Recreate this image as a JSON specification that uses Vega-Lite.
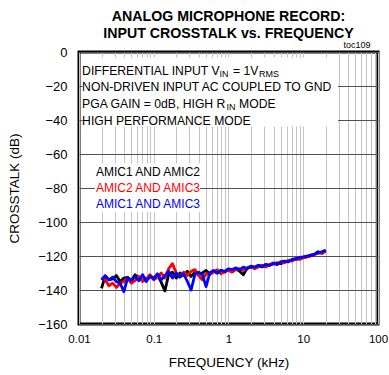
{
  "$schema": "https://vega.github.io/schema/vega-lite/v6.json",
  "width": 299,
  "height": 272,
  "autosize": {"type": "none"},
  "padding": {"left": 79, "top": 52, "right": 11, "bottom": 51},
  "background": "white",
  "config": {
    "view": {"stroke": "black", "strokeWidth": 3},
    "font": "Liberation Sans"
  },
  "title": {
    "text": ["ANALOG MICROPHONE RECORD:", "INPUT CROSSTALK vs. FREQUENCY"],
    "font": "Liberation Sans",
    "fontWeight": "bold",
    "fontSize": 14.2,
    "lineHeight": 17,
    "anchor": "middle",
    "offset": -1,
    "color": "black"
  },
  "datasets": {
    "curves": [
      {"f": 0.02, "m12": -139, "m23": -133, "m13": -134},
      {"f": 0.0224, "m12": -132, "m23": -134, "m13": -131.5},
      {"f": 0.0251, "m12": -134, "m23": -137.5, "m13": -134},
      {"f": 0.0282, "m12": -133.5, "m23": -136, "m13": -132.5},
      {"f": 0.0316, "m12": -131.5, "m23": -138.5, "m13": -135},
      {"f": 0.0355, "m12": -135, "m23": -136, "m13": -136},
      {"f": 0.0398, "m12": -133, "m23": -135, "m13": -141},
      {"f": 0.0447, "m12": -132.5, "m23": -133, "m13": -133},
      {"f": 0.0501, "m12": -134.5, "m23": -136, "m13": -134.5},
      {"f": 0.0562, "m12": -131, "m23": -134.5, "m13": -132},
      {"f": 0.0631, "m12": -133, "m23": -132, "m13": -134.5},
      {"f": 0.0708, "m12": -132, "m23": -135, "m13": -131},
      {"f": 0.0794, "m12": -134, "m23": -133.5, "m13": -135},
      {"f": 0.0891, "m12": -131.5, "m23": -131, "m13": -132},
      {"f": 0.1, "m12": -133, "m23": -134, "m13": -133.5},
      {"f": 0.112, "m12": -131, "m23": -132.5, "m13": -130.5},
      {"f": 0.126, "m12": -135.5, "m23": -130, "m13": -134},
      {"f": 0.141, "m12": -140.5, "m23": -133, "m13": -131.5},
      {"f": 0.158, "m12": -131, "m23": -127.5, "m13": -129},
      {"f": 0.178, "m12": -129.5, "m23": -124.5, "m13": -133},
      {"f": 0.2, "m12": -133, "m23": -130, "m13": -130},
      {"f": 0.224, "m12": -130, "m23": -132, "m13": -132.5},
      {"f": 0.251, "m12": -131.5, "m23": -129.5, "m13": -130.5},
      {"f": 0.282, "m12": -129, "m23": -131.5, "m13": -135},
      {"f": 0.316, "m12": -132, "m23": -129, "m13": -140},
      {"f": 0.355, "m12": -129.5, "m23": -128, "m13": -131},
      {"f": 0.398, "m12": -131, "m23": -131.5, "m13": -129.5},
      {"f": 0.447, "m12": -130, "m23": -134, "m13": -131},
      {"f": 0.501, "m12": -128.5, "m23": -130.5, "m13": -138},
      {"f": 0.562, "m12": -130.5, "m23": -131, "m13": -130},
      {"f": 0.631, "m12": -129, "m23": -129.5, "m13": -128.5},
      {"f": 0.708, "m12": -130, "m23": -128, "m13": -130},
      {"f": 0.794, "m12": -128.5, "m23": -130.5, "m13": -128.5},
      {"f": 0.891, "m12": -129.5, "m23": -129, "m13": -129},
      {"f": 1, "m12": -128, "m23": -128.5, "m13": -127.5},
      {"f": 1.12, "m12": -128.5, "m23": -129.5, "m13": -128},
      {"f": 1.26, "m12": -127.5, "m23": -128, "m13": -127},
      {"f": 1.41, "m12": -129, "m23": -127.5, "m13": -128},
      {"f": 1.58, "m12": -131, "m23": -128.5, "m13": -126.5},
      {"f": 1.78, "m12": -127, "m23": -127, "m13": -127.5},
      {"f": 2, "m12": -126.5, "m23": -126, "m13": -126},
      {"f": 2.24, "m12": -127, "m23": -127.5, "m13": -126.5},
      {"f": 2.51, "m12": -125.5, "m23": -126.5, "m13": -125.5},
      {"f": 2.82, "m12": -126, "m23": -125.5, "m13": -126.5},
      {"f": 3.16, "m12": -125, "m23": -126.5, "m13": -125},
      {"f": 3.55, "m12": -125.5, "m23": -125, "m13": -125.5},
      {"f": 3.98, "m12": -124.5, "m23": -124, "m13": -124.5},
      {"f": 4.47, "m12": -124, "m23": -125, "m13": -125},
      {"f": 5.01, "m12": -124.5, "m23": -123.5, "m13": -123.5},
      {"f": 5.62, "m12": -123.5, "m23": -124, "m13": -123},
      {"f": 6.31, "m12": -123, "m23": -122.5, "m13": -123.5},
      {"f": 7.08, "m12": -122.5, "m23": -123, "m13": -122},
      {"f": 7.94, "m12": -122, "m23": -121.5, "m13": -121.5},
      {"f": 8.91, "m12": -121.5, "m23": -122, "m13": -121},
      {"f": 10, "m12": -121, "m23": -121, "m13": -120.5},
      {"f": 11.2, "m12": -120.5, "m23": -120.5, "m13": -120},
      {"f": 12.6, "m12": -120, "m23": -119.5, "m13": -119.5},
      {"f": 14.1, "m12": -119, "m23": -119, "m13": -119},
      {"f": 15.8, "m12": -117.5, "m23": -118.5, "m13": -118},
      {"f": 17.8, "m12": -118.5, "m23": -118, "m13": -117.5},
      {"f": 20, "m12": -117, "m23": -117.5, "m13": -116.5}
    ],
    "boxes": [
      {"f": 0.0112, "f2": 29.2, "db": -3.3, "db2": -43.8},
      {"f": 0.0163, "f2": 0.418, "db": -65.6, "db2": -94}
    ],
    "notes": [
      {"part": "main", "text": "DIFFERENTIAL INPUT V", "f": 0.011, "db": -11},
      {"part": "sub", "text": "IN", "f": 0.758, "db": -12.8},
      {"part": "main", "text": "= 1V", "f": 1.1487, "db": -11},
      {"part": "sub", "text": "RMS", "f": 2.559, "db": -12.8},
      {"part": "main", "text": "NON-DRIVEN INPUT AC COUPLED TO GND", "f": 0.011, "db": -20.7},
      {"part": "main", "text": "PGA GAIN = 0dB, HIGH R", "f": 0.011, "db": -30.6},
      {"part": "sub", "text": "IN", "f": 0.94, "db": -32.4},
      {"part": "main", "text": "MODE", "f": 1.382, "db": -30.6},
      {"part": "main", "text": "HIGH PERFORMANCE MODE", "f": 0.011, "db": -40.6},
      {"part": "tag", "text": "toc109", "f": 52.4, "db": 1.4}
    ],
    "legend": [
      {"series": "m12", "label": "AMIC1 AND AMIC2", "f": 0.01688, "db": -70.5},
      {"series": "m23", "label": "AMIC2 AND AMIC3", "f": 0.01688, "db": -80},
      {"series": "m13", "label": "AMIC1 AND AMIC3", "f": 0.01688, "db": -89.5}
    ]
  },
  "encoding": {
    "x": {
      "field": "f",
      "type": "quantitative",
      "scale": {"type": "log", "domain": [0.01, 100]},
      "axis": {
        "values": [0.01, 0.02, 0.03, 0.04, 0.05, 0.06, 0.07, 0.08, 0.09, 0.1, 0.2, 0.3, 0.4, 0.5, 0.6, 0.7, 0.8, 0.9, 1, 2, 3, 4, 5, 6, 7, 8, 9, 10, 20, 30, 40, 50, 60, 70, 80, 90, 100],
        "format": "~g",
        "labelExpr": "indexof([0.01, 0.1, 1, 10, 100], datum.value) >= 0 ? datum.label : ''",
        "grid": true,
        "gridColor": "#c4c4c4",
        "gridWidth": 1,
        "ticks": false,
        "domain": false,
        "labelFontSize": 11.5,
        "labelColor": "black",
        "labelPadding": 9,
        "labelFlush": false,
        "labelOverlap": false,
        "title": "FREQUENCY (kHz)",
        "titleFontSize": 13.5,
        "titleFontWeight": "normal",
        "titleColor": "black",
        "titlePadding": 11
      }
    },
    "y": {
      "field": "db",
      "type": "quantitative",
      "scale": {"domain": [-160, 0]},
      "axis": {
        "values": [-160, -140, -120, -100, -80, -60, -40, -20, 0],
        "grid": true,
        "gridColor": "#505050",
        "gridWidth": 1,
        "ticks": false,
        "domain": false,
        "labelFontSize": 13,
        "labelColor": "black",
        "labelPadding": 12,
        "title": "CROSSTALK (dB)",
        "titleFontSize": 13.5,
        "titleFontWeight": "normal",
        "titleColor": "black",
        "titlePadding": 16
      }
    }
  },
  "layer": [
    {
      "data": {"name": "boxes"},
      "mark": {"type": "rect", "fill": "white", "stroke": null},
      "encoding": {
        "x2": {"field": "f2"},
        "y2": {"field": "db2"}
      }
    },
    {
      "data": {"name": "curves"},
      "transform": [{"fold": ["m12", "m23", "m13"], "as": ["series", "db"]}],
      "mark": {"type": "line", "strokeWidth": 2.8, "strokeJoin": "round"},
      "encoding": {
        "color": {
          "field": "series",
          "type": "nominal",
          "scale": {"domain": ["m12", "m23", "m13"], "range": ["#000000", "#ff0000", "#0000ff"]},
          "legend": null
        }
      }
    },
    {
      "data": {"name": "notes"},
      "transform": [{"filter": "datum.part === 'main'"}],
      "mark": {"type": "text", "align": "left", "baseline": "middle", "fontSize": 12.2, "color": "black"},
      "encoding": {"text": {"field": "text"}}
    },
    {
      "data": {"name": "notes"},
      "transform": [{"filter": "datum.part === 'sub'"}],
      "mark": {"type": "text", "align": "left", "baseline": "middle", "fontSize": 9, "color": "black"},
      "encoding": {"text": {"field": "text"}}
    },
    {
      "data": {"name": "notes"},
      "transform": [{"filter": "datum.part === 'tag'"}],
      "mark": {"type": "text", "align": "center", "baseline": "bottom", "fontSize": 9, "color": "black"},
      "encoding": {"text": {"field": "text"}}
    },
    {
      "data": {"name": "legend"},
      "mark": {"type": "text", "align": "left", "baseline": "middle", "fontSize": 12},
      "encoding": {
        "text": {"field": "label"},
        "color": {"field": "series", "type": "nominal", "legend": null}
      }
    }
  ]
}
